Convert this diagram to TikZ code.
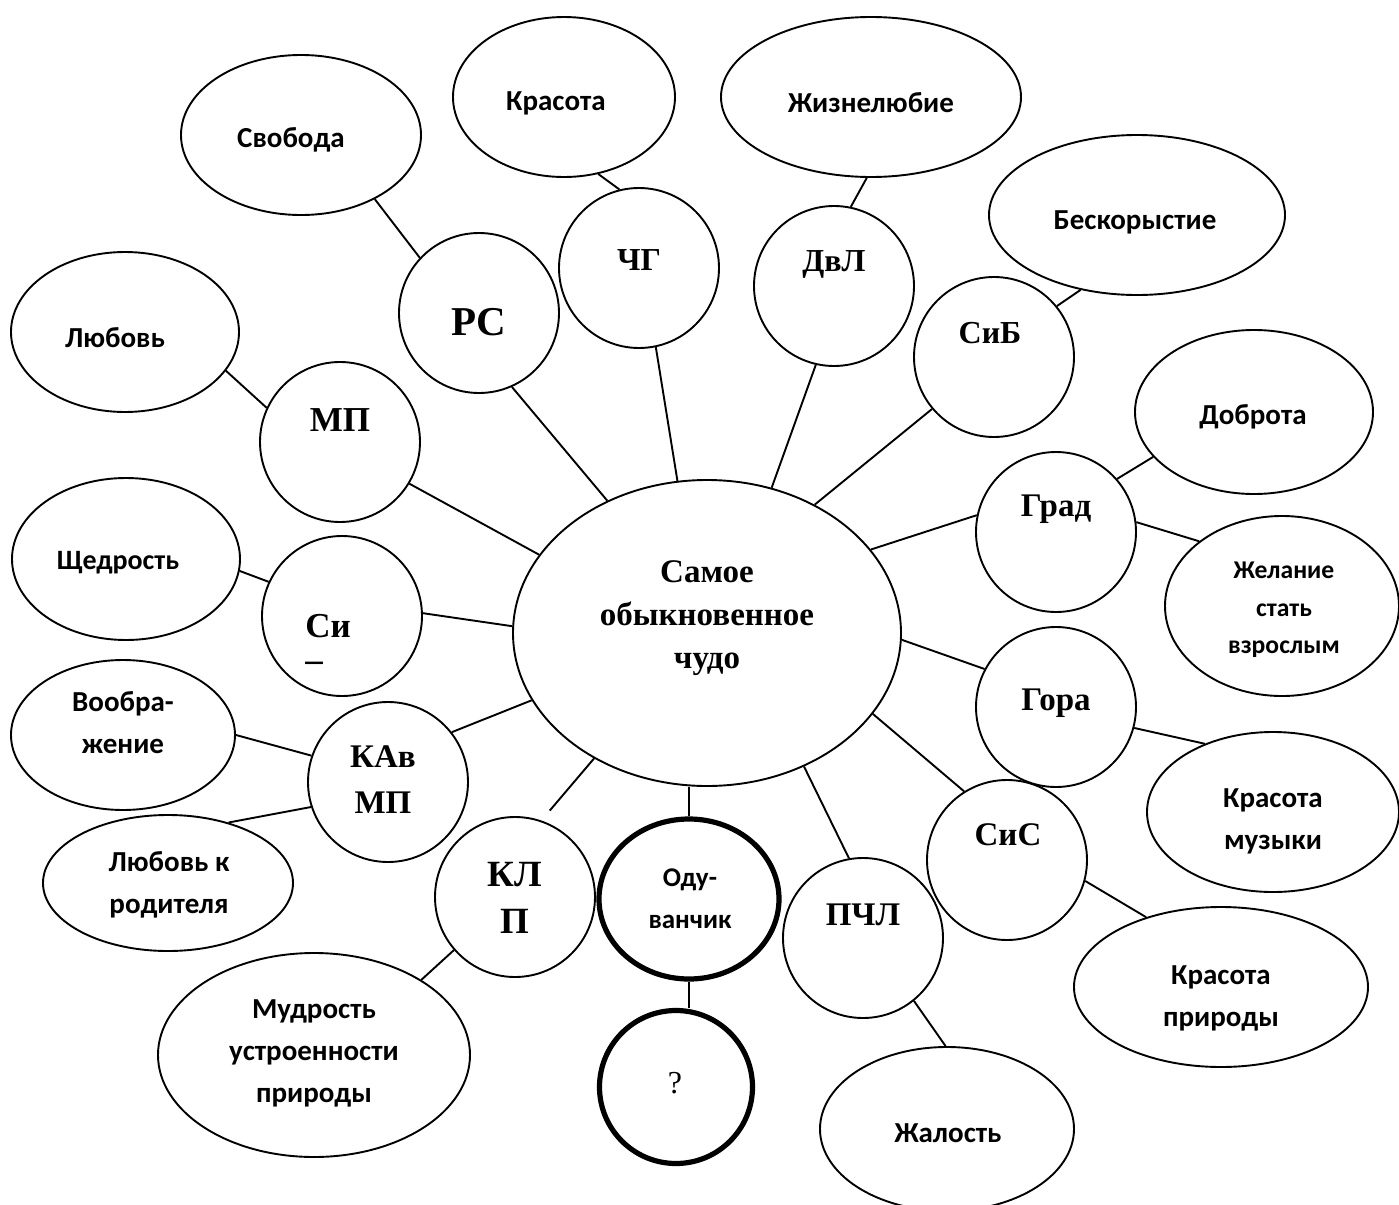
\documentclass[tikz,border=0pt]{standalone}
\usepackage{fontspec}
\setmainfont{Liberation Serif}
\newfontfamily\carfont{Carlito}
\usetikzlibrary{shapes.geometric}
\begin{document}
\begin{tikzpicture}[x=0.5pt,y=-0.5pt,
  shp/.style={draw, line width=0.95pt, inner sep=0pt},
  circ/.style={shp, circle, minimum size=80pt},
  ell/.style 2 args={shp, ellipse, minimum width=#1pt, minimum height=#2pt},
  bold/.style={line width=2.6pt},
  con/.style={line width=0.95pt},
  sx/.style={font=\carfont\bfseries\fontsize{14.5}{21}\selectfont, align=center, inner sep=0pt},
  sxs/.style={font=\carfont\bfseries\fontsize{12.8}{18.8}\selectfont, align=center, inner sep=0pt},
  rx/.style={font=\bfseries\fontsize{16.5}{21.5}\selectfont, align=center, inner sep=0pt},
]
\path[use as bounding box, fill=white] (0,0) rectangle (1399,1205);

% centre
\node[ell={194}{153}] (c) at (707,633) {};
\node[rx] (t-c) at (707,618) {Самое\\обыкновенное\\чудо};

% circles
\node[circ] (rs) at (479,313) {};
\node[circ] (chg) at (639,268) {};
\node[circ] (dvl) at (834,286) {};
\node[circ] (sib) at (994,357) {};
\node[circ] (mp) at (340,442) {};
\node[circ] (si) at (342,616) {};
\node[circ] (kav) at (388,782) {};
\node[circ] (klp) at (515,897) {};
\node[circ] (pchl) at (863,938) {};
\node[circ] (sis) at (1007,860) {};
\node[circ] (gora) at (1056,707) {};
\node[circ] (grad) at (1056,532) {};
\node[ell={90}{80}, bold] (odu) at (689,899) {};
\node[circ, bold, minimum size=76.5pt] (q) at (676,1087) {};

\node[rx, font=\bfseries\fontsize{20.5}{24}\selectfont] (t-rs) at (479,322) {РС};
\node[rx, font=\bfseries\fontsize{16}{20}\selectfont] (t-chg) at (639,260) {ЧГ};
\node[rx, font=\bfseries\fontsize{16}{20}\selectfont] (t-dvl) at (834,264) {ДвЛ};
\node[rx, font=\bfseries\fontsize{16}{20}\selectfont] (t-sib) at (990,333) {СиБ};
\node[rx, font=\bfseries\fontsize{17.5}{20}\selectfont] (t-mp) at (340,420) {МП};
\node[rx, align=left, font=\bfseries\fontsize{17.5}{17}\selectfont] (t-si) at (328,643) {Си\\–};
\node[rx, font=\bfseries\fontsize{16.5}{23}\selectfont] (t-kav) at (383,780) {КАв\\МП};
\node[rx, font=\bfseries\fontsize{18.5}{23.5}\selectfont] (t-klp) at (515,898) {КЛ\\П};
\node[rx] (t-grad) at (1056,509) {Град};
\node[rx] (t-gora) at (1056,703) {Гора};
\node[rx] (t-sis) at (1008,835) {СиС};
\node[rx] (t-pchl) at (863,915) {ПЧЛ};
\node[sx, font=\carfont\bfseries\fontsize{13.5}{21}\selectfont] (t-odu) at (690,899) {Оду-\\ванчик};
\node[inner sep=0pt, font=\fontsize{16}{20}\selectfont] (t-q) at (675,1083) {?};

% outer ellipses
\node[ell={120}{80}] (svo) at (301,135) {};
\node[ell={111}{80}] (kr1) at (564,97) {};
\node[ell={150}{80}] (zhiz) at (871,97) {};
\node[ell={148}{80}] (besk) at (1137,215) {};
\node[ell={114}{80}] (lyub) at (125,332) {};
\node[ell={119}{82}] (dobr) at (1254,412) {};
\node[ell={114}{81}] (shch) at (126,559) {};
\node[ell={117}{90}] (zhel) at (1282,606) {};
\node[ell={112}{75}] (voob) at (123,735) {};
\node[ell={125}{68}] (lkr) at (168,883) {};
\node[ell={126}{80}] (krm) at (1273,812) {};
\node[ell={147}{80}] (krp) at (1221,987) {};
\node[ell={156}{102}] (mudr) at (314,1055) {};
\node[ell={127}{82}] (zhal) at (947,1129) {};

\node[sx] (t-svo) at (291,140) {Свобода};
\node[sx] (t-kr1) at (556,103) {Красота};
\node[sx] (t-zhiz) at (871,103) {Жизнелюбие};
\node[sx] (t-besk) at (1135,222) {Бескорыстие};
\node[sx] (t-lyub) at (115,338) {Любовь};
\node[sx] (t-dobr) at (1253,417) {Доброта};
\node[sx, font=\carfont\bfseries\fontsize{14}{21}\selectfont] (t-shch) at (118,563) {Щедрость};
\node[sxs] (t-zhel) at (1284,610) {Желание\\стать\\взрослым};
\node[sx] (t-voob) at (123,723) {Вообра-\\жение};
\node[sx] (t-lkr) at (169,885) {Любовь к\\родителя};
\node[sx] (t-mudr) at (314,1053) {Мудрость\\устроенности\\природы};
\node[sx] (t-krm) at (1273,821) {Красота\\музыки};
\node[sx] (t-krp) at (1221,998) {Красота\\природы};
\node[sx] (t-zhal) at (948,1133) {Жалость};

% connectors outer
\draw[con] (svo.-41.6) -- (rs.137);
\draw[con] (kr1.-66.8) -- (chg.104.4);
\draw[con] (zhiz.-93.5) -- (dvl.78);
\draw[con] (besk.-127.9) -- (sib.39.5);
\draw[con] (lyub.-21.8) -- (mp.155.9);
\draw[con] (shch.-6.6) -- (si.155.5);
\draw[con] (voob.0.5) -- (kav.161);
\draw[con] (lkr.45.5) -- (kav.198.6);
\draw[con] (mudr.35.1) -- (klp.221.1);
\draw[con] (dobr.204.2) -- (grad.41.7);
\draw[con] (grad.7.7) -- (zhel.142.3);
\draw[con] (gora.-15.1) -- (krm.135);
\draw[con] (sis.-15.2) -- (krp.137.7);
\draw[con] (pchl.-51.7) -- (zhal.91.4);

% connectors centre
\draw[con] (c.127.6) -- (rs.-66.1);
\draw[con] (c.101.8) -- (chg.-78);
\draw[con] (c.66.6) -- (dvl.-103.4);
\draw[con] (c.50) -- (sib.-140.2);
\draw[con] (c.155.4) -- (mp.-31.2);
\draw[con] (c.178.2) -- (si.2);
\draw[con] (c.201.5) -- (kav.38.7);
\draw[con, shorten >=6.5pt] (c.-132.8) -- (klp.71.4);
\draw[con] (c.-54.6) -- (pchl.100.2);
\draw[con] (c.27.8) -- (grad.168.7);
\draw[con] (c.-2.1) -- (gora.152.4);
\draw[con] (c.-26.1) -- (sis.122.1);
\draw[con] (odu.north) -- (odu.north |- c.south);
\draw[con] (odu.south) -- (odu.south |- q.north);
\end{tikzpicture}
\end{document}
